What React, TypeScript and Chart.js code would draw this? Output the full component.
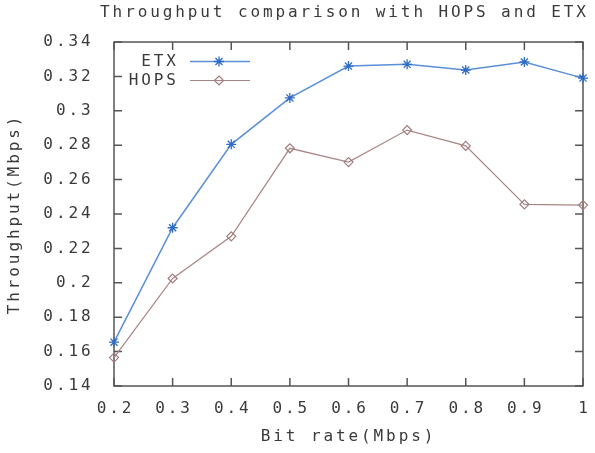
import { useEffect, useRef } from 'react';
import { Chart, registerables } from 'chart.js';
import { drawPoint } from 'chart.js/helpers';

Chart.register(...registerables);

const bitRates = [0.2, 0.3, 0.4, 0.5, 0.6, 0.7, 0.8, 0.9, 1.0];
const etxThroughput = [0.1655, 0.232, 0.2805, 0.3075, 0.326, 0.327, 0.3237, 0.3284, 0.319];
const hopsThroughput = [0.1565, 0.2025, 0.227, 0.2782, 0.2702, 0.2888, 0.2796, 0.2456, 0.2452];
const seriesLabels = ['ETX', 'HOPS'];
const chartTitle = 'Throughput comparison with HOPS and ETX';
const xAxisTitle = 'Bit rate(Mbps)';
const yAxisTitle = 'Throughput(Mbps)';

const FONT_FAMILY = '"DejaVu Sans Mono", "Liberation Mono", monospace';
const FONT_SIZE = 16;
const SPACING = 2.9;
const LETTER_SPACING = `${SPACING}px`;
const TEXT_COLOR = '#3a3a3a';
const AXIS_COLOR = '#555555';

const fmt = (v: number | string) => String(Number(Number(v).toFixed(2)));

const spacingPlugin = {
  id: 'letterSpacing',
  beforeLayout(chart: any) {
    chart.ctx.letterSpacing = LETTER_SPACING;
  },
  beforeDraw(chart: any) {
    chart.ctx.letterSpacing = LETTER_SPACING;
  },
};

const titlePlugin = {
  id: 'gnuTitle',
  afterDraw(chart: any) {
    const { ctx } = chart;
    ctx.save();
    ctx.letterSpacing = LETTER_SPACING;
    ctx.font = `${FONT_SIZE}px ${FONT_FAMILY}`;
    ctx.fillStyle = TEXT_COLOR;
    ctx.textAlign = 'center';
    ctx.textBaseline = 'alphabetic';
    ctx.fillText(chartTitle, 343 + SPACING / 2, 17);
    ctx.restore();
  },
};

const framePlugin = {
  id: 'gnuFrame',
  beforeDatasetsDraw(chart: any) {
    const { ctx, chartArea } = chart;
    const { left, right, top, bottom } = chartArea;
    const tl = 8;
    ctx.save();
    ctx.strokeStyle = AXIS_COLOR;
    ctx.lineWidth = 1.5;
    ctx.strokeRect(left, top, right - left, bottom - top);
    ctx.beginPath();
    const xs = chart.scales.x;
    xs.ticks.forEach((t: any) => {
      const px = xs.getPixelForValue(t.value);
      ctx.moveTo(px, bottom);
      ctx.lineTo(px, bottom - tl);
      ctx.moveTo(px, top);
      ctx.lineTo(px, top + tl);
    });
    const ys = chart.scales.y;
    ys.ticks.forEach((t: any) => {
      const py = ys.getPixelForValue(t.value);
      ctx.moveTo(left, py);
      ctx.lineTo(left + tl, py);
      ctx.moveTo(right, py);
      ctx.lineTo(right - tl, py);
    });
    ctx.stroke();
    ctx.restore();
  },
};

const legendPlugin = {
  id: 'gnuLegend',
  afterDatasetsDraw(chart: any) {
    const { ctx, chartArea } = chart;
    const textX = chartArea.left + 62 + SPACING;
    const x1 = chartArea.left + 76;
    const x2 = chartArea.left + 136;
    const xm = chartArea.left + 105;
    chart.data.datasets.forEach((ds: any, i: number) => {
      const y = chartArea.top + 19.5 + i * 19;
      ctx.save();
      ctx.letterSpacing = LETTER_SPACING;
      ctx.font = `${FONT_SIZE}px ${FONT_FAMILY}`;
      ctx.fillStyle = TEXT_COLOR;
      ctx.textAlign = 'right';
      ctx.textBaseline = 'middle';
      ctx.fillText(ds.label, textX, y);
      ctx.strokeStyle = ds.borderColor;
      ctx.lineWidth = ds.borderWidth;
      ctx.beginPath();
      ctx.moveTo(x1, y);
      ctx.lineTo(x2, y);
      ctx.stroke();
      ctx.strokeStyle = ds.pointBorderColor;
      ctx.fillStyle = 'rgba(0,0,0,0)';
      ctx.lineWidth = ds.pointBorderWidth;
      drawPoint(ctx, { pointStyle: ds.pointStyle, radius: ds.pointRadius, rotation: 0, borderWidth: ds.pointBorderWidth }, xm, y);
      ctx.restore();
    });
  },
};

export default function App() {
  const canvasRef = useRef<HTMLCanvasElement | null>(null);

  useEffect(() => {
    if (!canvasRef.current) return;
    const font = { family: FONT_FAMILY, size: FONT_SIZE, weight: 'normal' as const, lineHeight: 1.2 };
    const chart = new Chart(canvasRef.current, {
      type: 'line',
      data: {
        datasets: [
          {
            label: seriesLabels[0],
            data: bitRates.map((x, i) => ({ x, y: etxThroughput[i] })),
            borderColor: '#5b8fd8',
            borderWidth: 1.5,
            pointStyle: 'star',
            pointRadius: 5,
            pointBorderWidth: 1.3,
            pointBorderColor: '#2f6cc6',
            pointBackgroundColor: 'rgba(0,0,0,0)',
            clip: false,
            tension: 0,
          },
          {
            label: seriesLabels[1],
            data: bitRates.map((x, i) => ({ x, y: hopsThroughput[i] })),
            borderColor: '#a88585',
            borderWidth: 1.2,
            pointStyle: 'rectRot',
            pointRadius: 4.5,
            pointBorderWidth: 1.2,
            pointBorderColor: '#a07c7c',
            pointBackgroundColor: 'rgba(0,0,0,0)',
            clip: false,
            tension: 0,
          },
        ],
      },
      options: {
        animation: false,
        responsive: true,
        maintainAspectRatio: false,
        layout: { padding: { left: 0, right: 12, top: 42, bottom: 0 } },
        plugins: {
          legend: { display: false },
          tooltip: { enabled: false },
          title: { display: false },
        },
        scales: {
          x: {
            type: 'linear',
            min: 0.2,
            max: 1,
            grid: { display: false, drawTicks: false },
            border: { display: false },
            ticks: {
              stepSize: 0.1,
              autoSkip: false,
              maxRotation: 0,
              padding: 13.5,
              labelOffset: SPACING / 2,
              color: TEXT_COLOR,
              font,
              callback: (v: any) => fmt(v),
            },
            title: {
              display: true,
              text: xAxisTitle,
              color: TEXT_COLOR,
              font,
              padding: { top: 0, bottom: 6.4 },
            },
            afterFit: (s: any) => {
              s.height = 67;
              s.paddingLeft = 0;
              s.paddingRight = 12;
            },
          },
          y: {
            type: 'linear',
            min: 0.14,
            max: 0.34,
            grid: { display: false, drawTicks: false },
            border: { display: false },
            ticks: {
              stepSize: 0.02,
              autoSkip: false,
              padding: 20.5,
              color: TEXT_COLOR,
              font,
              callback: (v: any) => fmt(v),
            },
            title: {
              display: true,
              text: yAxisTitle,
              color: TEXT_COLOR,
              font,
              padding: { top: 5.4, bottom: 0 },
            },
            afterFit: (s: any) => {
              s.width = 114;
            },
          },
        },
      },
      plugins: [spacingPlugin, framePlugin, legendPlugin, titlePlugin],
    });
    return () => chart.destroy();
  }, []);

  return (
    <div style={{ position: 'absolute', left: 0, top: 0, width: 595, height: 453, background: '#fff' }}>
      <canvas ref={canvasRef} />
    </div>
  );
}
